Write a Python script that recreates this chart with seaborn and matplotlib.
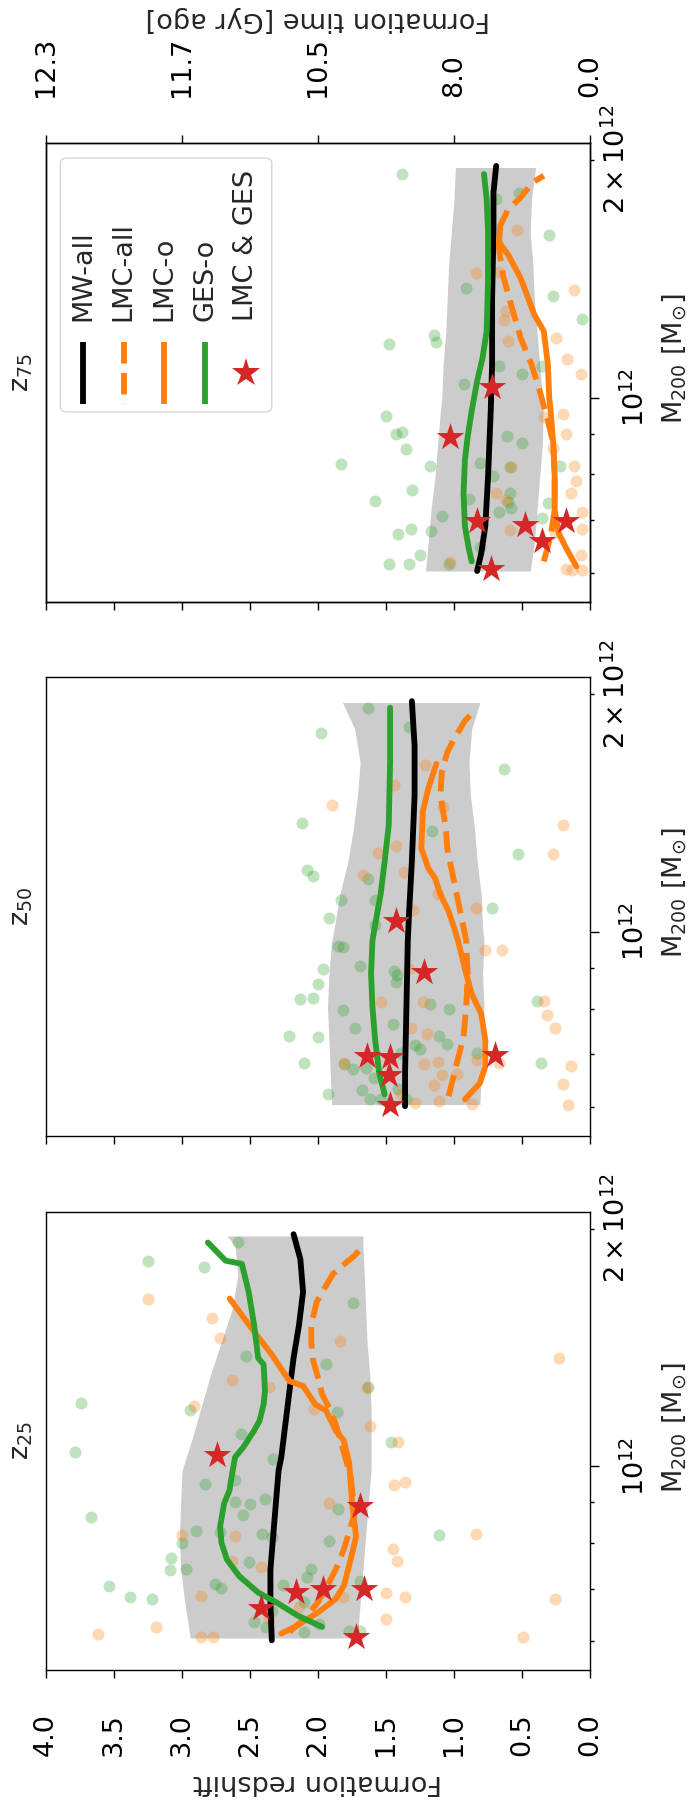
import matplotlib
matplotlib.use("Agg")
import matplotlib.pyplot as plt
import matplotlib.ticker as mticker
from matplotlib.patches import FancyBboxPatch
import numpy as np
import seaborn as sns

# ---------------- data (mass in 1e12 Msun, formation redshift) ----------------
redshift_ticks = [0.0, 0.5, 1.0, 1.5, 2.0, 2.5, 3.0, 3.5, 4.0]
redshift_labels = ["0.0", "0.5", "1.0", "1.5", "2.0", "2.5", "3.0", "3.5", "4.0"]
time_ticks = [0.0, 1.0, 2.0, 3.0, 4.0]
time_labels = ["0.0", "8.0", "10.5", "11.7", "12.3"]
mass_major = [1.0e12]
mass_major_labels = [r"$\mathdefault{10^{12}}$"]
mass_minor = [6e11, 7e11, 8e11, 9e11, 2e12]
mass_minor_labels = ["", "", "", "", r"$\mathdefault{2\times10^{12}}$"]
panel_titles = ["z$_{25}$", "z$_{50}$", "z$_{75}$"]
legend_labels = ["MW-all", "LMC-all", "LMC-o", "GES-o", "LMC & GES"]

# --- z25 ---
band25_m = [0.606, 0.673, 0.740, 0.815, 0.898, 0.988, 1.078, 1.187, 1.307, 1.439, 1.585, 1.745, 1.903, 1.958]
band25_hi = [2.94, 2.98, 3.01, 3.02, 3.01, 3.00, 2.93, 2.86, 2.79, 2.71, 2.63, 2.59, 2.61, 2.67]
band25_lo = [1.71, 1.69, 1.67, 1.65, 1.63, 1.61, 1.61, 1.61, 1.62, 1.64, 1.65, 1.66, 1.67, 1.67]
mw25_m = [0.602, 0.673, 0.740, 0.815, 0.898, 0.988, 1.027, 1.131, 1.246, 1.371, 1.510, 1.663, 1.830, 1.968]
mw25_z = [2.34, 2.35, 2.35, 2.33, 2.31, 2.29, 2.27, 2.24, 2.21, 2.18, 2.14, 2.11, 2.13, 2.18]
ges25_m = [0.626, 0.647, 0.673, 0.692, 0.726, 0.762, 0.800, 0.839, 0.898, 0.933, 0.960, 1.027, 1.057,
           1.110, 1.142, 1.198, 1.246, 1.346, 1.371, 1.510, 1.663, 1.805, 1.822, 1.921]
ges25_z = [1.97, 2.15, 2.31, 2.44, 2.58, 2.67, 2.71, 2.72, 2.69, 2.65, 2.64, 2.61, 2.55,
           2.47, 2.43, 2.40, 2.39, 2.40, 2.44, 2.47, 2.51, 2.56, 2.68, 2.81]
lmco25_m = [0.614, 0.629, 0.653, 0.679, 0.706, 0.762, 0.815, 0.898, 1.008, 1.078, 1.110, 1.176,
            1.198, 1.264, 1.282, 1.385, 1.481, 1.631]
lmco25_z = [2.27, 2.15, 2.00, 1.87, 1.81, 1.76, 1.72, 1.75, 1.77, 1.81, 1.87, 1.94,
            2.02, 2.11, 2.21, 2.34, 2.47, 2.65]
lmca25_m = [0.617, 0.641, 0.673, 0.712, 0.740, 0.785, 0.872, 0.970, 1.027, 1.131, 1.187, 1.234,
            1.295, 1.371, 1.439, 1.510, 1.615, 1.695, 1.753, 1.814, 1.849, 1.903]
lmca25_z = [2.21, 2.10, 2.00, 1.92, 1.87, 1.81, 1.73, 1.76, 1.80, 1.87, 1.92, 1.97,
            2.00, 2.04, 2.05, 2.05, 2.01, 1.94, 1.89, 1.79, 1.73, 1.67]
star25_m = [1.034, 0.891, 0.661, 0.694, 0.699, 0.700, 0.608]
star25_z = [2.74, 1.69, 2.42, 2.16, 1.96, 1.66, 1.72]
gpts25_m = [1.925, 1.819, 1.791, 1.609, 1.378, 1.347, 1.260, 1.202, 1.180, 1.171, 1.100, 1.043, 1.073,
            1.022, 0.951, 0.960, 0.900, 0.896, 0.908, 0.867, 0.863, 0.828, 0.826, 0.822, 0.814, 0.804,
            0.800, 0.765, 0.757, 0.742, 0.739, 0.742, 0.724, 0.709, 0.701, 0.706, 0.684, 0.680, 0.708,
            0.882, 0.818, 0.673, 0.635, 0.626, 0.617, 0.618, 0.618, 0.655, 0.716, 0.632]
gpts25_z = [2.59, 3.25, 2.84, 1.74, 2.53, 1.94, 1.63, 3.74, 2.94, 1.86, 2.57, 3.79, 1.46,
            2.33, 2.83, 2.61, 2.61, 2.50, 2.39, 2.55, 3.67, 2.90, 2.72, 2.41, 2.34, 1.92,
            3.00, 3.08, 2.51, 2.97, 3.09, 2.05, 2.08, 2.76, 2.71, 3.54, 3.38, 3.22, 2.26,
            1.85, 1.11, 2.10, 2.47, 2.38, 2.10, 1.77, 1.69, 2.34, 1.69, 1.99]
opts25_m = [1.631, 1.541, 1.452, 1.442, 1.372, 1.287, 1.260, 1.255, 1.193, 1.183, 1.124, 1.075,
            0.948, 0.954, 0.899, 0.822, 0.786, 0.759, 0.818, 0.817, 0.759, 0.746, 0.685, 0.692,
            0.684, 0.679, 0.640, 0.625, 0.614, 0.607, 0.608, 0.607, 0.684, 0.640, 0.663]
opts25_z = [3.25, 2.78, 2.72, 1.84, 0.23, 2.63, 2.36, 1.64, 2.91, 2.03, 1.62, 1.41,
            1.44, 1.36, 1.92, 0.84, 1.45, 1.42, 3.00, 2.61, 2.63, 2.42, 2.86, 1.50,
            1.36, 0.26, 1.50, 3.19, 3.62, 2.86, 2.77, 0.49, 1.82, 2.36, 2.14]

# --- z50 ---
band50_m = [0.605, 0.663, 0.730, 0.804, 0.885, 0.974, 1.013, 1.115, 1.228, 1.352, 1.488, 1.639, 1.805, 1.950]
band50_hi = [1.90, 1.91, 1.92, 1.93, 1.92, 1.90, 1.88, 1.84, 1.78, 1.74, 1.71, 1.69, 1.73, 1.82]
band50_lo = [0.81, 0.80, 0.79, 0.78, 0.79, 0.78, 0.79, 0.80, 0.83, 0.85, 0.88, 0.89, 0.87, 0.81]
mw50_m = [0.602, 0.663, 0.804, 0.974, 1.062, 1.228, 1.488, 1.720, 1.958]
mw50_z = [1.36, 1.36, 1.35, 1.34, 1.33, 1.31, 1.29, 1.29, 1.31]
ges50_m = [0.623, 0.663, 0.730, 0.804, 0.885, 0.974, 1.022, 1.115, 1.228, 1.365, 1.639, 1.921]
ges50_z = [1.51, 1.55, 1.58, 1.60, 1.61, 1.60, 1.58, 1.54, 1.51, 1.48, 1.47, 1.47]
lmco50_m = [0.614, 0.644, 0.676, 0.730, 0.788, 0.835, 0.885, 0.974, 1.013, 1.062, 1.115, 1.170,
            1.204, 1.276, 1.419, 1.517, 1.631]
lmco50_z = [0.92, 0.81, 0.77, 0.77, 0.80, 0.87, 0.91, 0.97, 1.00, 1.04, 1.10, 1.14,
            1.19, 1.24, 1.23, 1.19, 1.13]
lmca50_m = [0.620, 0.682, 0.737, 0.804, 0.885, 0.974, 1.013, 1.073, 1.137, 1.204, 1.276, 1.352,
            1.419, 1.488, 1.592, 1.687, 1.753, 1.849, 1.912]
lmca50_z = [1.04, 0.98, 0.93, 0.91, 0.90, 0.91, 0.93, 0.96, 0.99, 1.02, 1.05, 1.06,
            1.08, 1.10, 1.09, 1.05, 1.00, 0.92, 0.84]
star50_m = [1.032, 0.889, 0.696, 0.695, 0.660, 0.605, 0.699]
star50_z = [1.43, 1.22, 1.64, 1.47, 1.48, 1.47, 0.70]
gpts50_m = [1.921, 1.786, 1.814, 1.605, 1.374, 1.343, 1.256, 1.198, 1.178, 1.168, 1.097, 1.097, 1.040,
            1.071, 1.020, 0.960, 0.958, 0.898, 0.906, 0.893, 0.881, 0.864, 0.860, 0.823, 0.824, 0.797,
            0.811, 0.800, 0.755, 0.764, 0.739, 0.737, 0.738, 0.721, 0.719, 0.712, 0.702, 0.682, 0.681,
            0.671, 0.673, 0.653, 0.704, 0.682, 0.817, 0.624, 0.632, 0.615, 0.615, 0.633, 0.614]
gpts50_z = [1.63, 1.98, 1.33, 0.63, 2.12, 1.16, 0.53, 2.08, 2.04, 1.63, 1.83, 1.58, 1.92,
            0.72, 1.58, 1.85, 1.82, 1.96, 1.69, 1.44, 1.42, 1.43, 2.00, 2.13, 2.04, 1.82,
            1.18, 1.04, 1.73, 1.45, 2.21, 2.00, 1.11, 1.05, 1.29, 1.25, 1.39, 2.10, 1.81,
            1.74, 1.65, 1.59, 0.83, 0.36, 0.39, 1.93, 1.68, 1.62, 1.54, 1.41, 1.35]
opts50_m = [1.627, 1.536, 1.447, 1.439, 1.367, 1.254, 1.284, 1.257, 1.181, 1.190, 1.118, 1.066, 1.072,
            0.948, 0.950, 0.898, 0.816, 0.816, 0.818, 0.785, 0.756, 0.755, 0.744, 0.682, 0.680, 0.684,
            0.660, 0.662, 0.641, 0.688, 0.682, 0.676, 0.643, 0.605, 0.611, 0.607, 0.606, 0.623]
opts50_z = [1.21, 1.44, 1.90, 1.08, 0.20, 0.27, 1.43, 1.56, 1.67, 1.37, 1.12, 1.30, 0.84,
            0.77, 0.65, 1.33, 1.54, 1.23, 0.34, 0.32, 0.26, 1.32, 1.20, 1.81, 1.22, 1.12,
            1.09, 0.98, 1.15, 0.83, 0.67, 0.14, 0.20, 0.16, 1.11, 1.29, 0.87, 1.39]

# --- z75 ---
band75_m = [0.604, 0.655, 0.721, 0.794, 0.875, 0.963, 1.001, 1.102, 1.214, 1.336, 1.471, 1.620, 1.784, 1.955]
band75_hi = [1.21, 1.19, 1.17, 1.14, 1.12, 1.10, 1.09, 1.08, 1.06, 1.05, 1.04, 1.02, 1.00, 0.99]
band75_lo = [0.44, 0.41, 0.39, 0.37, 0.35, 0.345, 0.35, 0.37, 0.39, 0.41, 0.42, 0.44, 0.43, 0.40]
mw75_m = [0.604, 0.636, 0.688, 0.794, 0.963, 1.102, 1.336, 1.620, 1.818, 1.964]
mw75_z = [0.83, 0.80, 0.77, 0.75, 0.73, 0.72, 0.72, 0.71, 0.71, 0.69]
ges75_m = [0.621, 0.643, 0.688, 0.757, 0.834, 0.892, 0.963, 1.050, 1.124, 1.214, 1.402, 1.620, 1.784, 1.918]
ges75_z = [0.87, 0.89, 0.92, 0.93, 0.92, 0.90, 0.87, 0.83, 0.79, 0.76, 0.75, 0.75, 0.76, 0.78]
lmco75_m = [0.612, 0.643, 0.674, 0.721, 0.794, 0.875, 0.963, 1.001, 1.102, 1.214, 1.274, 1.416,
            1.515, 1.574, 1.636]
lmco75_z = [0.10, 0.17, 0.23, 0.26, 0.26, 0.27, 0.29, 0.30, 0.31, 0.34, 0.41, 0.51,
            0.60, 0.67, 0.66]
lmca75_m = [0.621, 0.668, 0.721, 0.794, 0.875, 0.936, 1.020, 1.102, 1.190, 1.311, 1.429, 1.544,
            1.652, 1.733, 1.784, 1.873, 1.909]
lmca75_z = [0.34, 0.29, 0.26, 0.26, 0.27, 0.31, 0.37, 0.43, 0.51, 0.58, 0.64, 0.67,
            0.66, 0.60, 0.52, 0.42, 0.34]
star75_m = [1.032, 0.892, 0.698, 0.691, 0.660, 0.699, 0.608]
star75_z = [0.72, 1.03, 0.83, 0.48, 0.35, 0.18, 0.73]
gpts75_m = [1.918, 1.815, 1.784, 1.605, 1.375, 1.345, 1.257, 1.170, 1.200, 1.177, 1.097, 1.071, 1.097,
            1.040, 0.949, 0.899, 0.906, 0.861, 0.824, 0.821, 0.764, 0.741, 0.826, 0.797, 0.894, 0.877,
            0.817, 0.757, 0.739, 0.725, 0.718, 0.708, 0.745, 0.683, 0.672, 0.678, 0.632, 0.616, 0.616,
            0.617, 0.820, 0.737, 0.704, 0.648]
gpts75_z = [1.38, 0.52, 0.69, 0.30, 0.91, 0.27, 0.06, 1.48, 1.15, 1.13, 0.67, 0.50, 0.35,
            0.93, 1.50, 1.43, 1.38, 1.35, 1.83, 1.18, 1.31, 1.58, 0.81, 0.71, 0.61, 0.50,
            0.59, 0.59, 0.60, 0.58, 0.67, 1.09, 0.89, 1.32, 1.41, 1.17, 1.25, 1.48, 1.33,
            1.04, 0.22, 0.31, 0.35, 0.81]
opts75_m = [1.628, 1.440, 1.441, 1.369, 1.286, 1.255, 1.190, 1.181, 1.118, 1.071, 0.954, 0.947,
            0.899, 0.865, 0.821, 0.784, 0.757, 0.817, 0.757, 0.742, 0.680, 0.718, 0.683, 0.633,
            0.607, 0.605, 0.606, 0.620, 0.676]
opts75_z = [0.54, 0.84, 0.67, 0.12, 0.62, 0.63, 0.25, 0.60, 0.17, 0.07, 0.20, 0.34,
            0.18, 0.27, 0.12, 0.10, 0.14, 0.58, 0.69, 0.62, 0.59, 0.06, 0.06, 0.07,
            0.18, 0.13, 0.06, 1.03, 0.26]

# ---------------- style ----------------
BLACK, ORANGE, GREEN, RED, BAND = "black", "#ff7f0e", "#2ca02c", "#d62728", "#cccccc"
FS = 19.5
LW = 4.2

sns.set_style("ticks", {"axes.edgecolor": "black", "xtick.color": "black", "ytick.color": "black"})
plt.rcParams["font.family"] = ["DejaVu Sans"]
plt.rcParams["axes.linewidth"] = 1.0

panels = [
    (band25_m, band25_lo, band25_hi, mw25_m, mw25_z, lmca25_m, lmca25_z, lmco25_m, lmco25_z,
     ges25_m, ges25_z, star25_m, star25_z, gpts25_m, gpts25_z, opts25_m, opts25_z),
    (band50_m, band50_lo, band50_hi, mw50_m, mw50_z, lmca50_m, lmca50_z, lmco50_m, lmco50_z,
     ges50_m, ges50_z, star50_m, star50_z, gpts50_m, gpts50_z, opts50_m, opts50_z),
    (band75_m, band75_lo, band75_hi, mw75_m, mw75_z, lmca75_m, lmca75_z, lmco75_m, lmco75_z,
     ges75_m, ges75_z, star75_m, star75_z, gpts75_m, gpts75_z, opts75_m, opts75_z),
]

# axes positions (figure is drawn "rotated": redshift runs right-to-left, mass upward)
positions = [[0.0669, 0.0758, 0.7907, 0.2535],
             [0.0669, 0.3713, 0.7907, 0.2540],
             [0.0669, 0.6669, 0.7907, 0.2540]]

fig = plt.figure(figsize=(6.88, 18.07), dpi=100)


def m12(a):
    return np.asarray(a) * 1e12


for i, (pos, data) in enumerate(zip(positions, panels)):
    (bm, blo, bhi, mwm, mwz, lam, laz, lom, loz, gm, gz, sm, sz, gpm, gpz, opm, opz) = data
    ax = fig.add_axes(pos)

    ax.fill_betweenx(m12(bm), blo, bhi, color=BAND, lw=0, zorder=1)
    sns.scatterplot(x=gpz, y=m12(gpm), color=GREEN, alpha=0.3, s=75, linewidth=0,
                    legend=False, zorder=2, ax=ax)
    sns.scatterplot(x=opz, y=m12(opm), color=ORANGE, alpha=0.3, s=75, linewidth=0,
                    legend=False, zorder=2, ax=ax)
    sns.lineplot(x=mwz, y=m12(mwm), sort=False, estimator=None, color=BLACK, lw=LW, zorder=3, ax=ax)
    sns.lineplot(x=laz, y=m12(lam), sort=False, estimator=None, color=ORANGE, lw=LW,
                 linestyle="--", zorder=3, ax=ax)
    sns.lineplot(x=loz, y=m12(lom), sort=False, estimator=None, color=ORANGE, lw=LW, zorder=3, ax=ax)
    sns.lineplot(x=gz, y=m12(gm), sort=False, estimator=None, color=GREEN, lw=LW, zorder=3, ax=ax)
    sns.scatterplot(x=sz, y=m12(sm), marker="*", color=RED, s=430, linewidth=0,
                    legend=False, zorder=4, ax=ax)

    if i == 2:
        axt = ax.twiny()
        axt.set_xlim(4, 0)
        axt.set_xticks(time_ticks)
        axt.set_xticklabels(time_labels)
        axt.tick_params(axis="x", which="major", length=6, width=1, pad=27,
                        labelsize=FS, labelrotation=90)
        axt.tick_params(axis="x", which="minor", length=0)

    ax.set_xlim(4, 0)
    ax.set_yscale("log")
    ax.set_ylim(0.552e12, 2.10e12)
    ax.set_xlabel("")
    ax.set_ylabel("")

    ax.set_xticks(redshift_ticks)
    ax.set_xticklabels(redshift_labels)
    ax.xaxis.set_minor_locator(mticker.NullLocator())
    ax.tick_params(axis="x", which="major", length=6, width=1, pad=25, labelsize=FS,
                   labelrotation=90, bottom=True, top=False, labelbottom=(i == 0), labeltop=False)

    ax.yaxis.set_major_locator(mticker.FixedLocator(mass_major))
    ax.yaxis.set_major_formatter(mticker.FixedFormatter(mass_major_labels))
    ax.yaxis.set_minor_locator(mticker.FixedLocator(mass_minor))
    ax.yaxis.set_minor_formatter(mticker.FixedFormatter(mass_minor_labels))
    ax.tick_params(axis="y", which="both", left=False, labelleft=False, right=True,
                   labelright=True, labelsize=FS, labelrotation=90)
    ax.tick_params(axis="y", which="major", length=6.3, width=1, pad=16.5)
    ax.tick_params(axis="y", which="minor", length=2.7, width=1, pad=6.5)
    for t in ax.yaxis.get_major_ticks() + ax.yaxis.get_minor_ticks():
        t.label2.set_verticalalignment("center")

    ax.text(1.129, 0.53, r"M$_{200}$ [M$_{\odot}$]", rotation=90, ha="left", va="center",
            fontsize=FS, transform=ax.transAxes)
    ax.text(-0.02, 0.5, panel_titles[i], rotation=90, ha="right", va="center",
            fontsize=FS, transform=ax.transAxes)

    if i == 2:
        box = FancyBboxPatch((0.026, 0.414), 0.389, 0.553,
                             boxstyle="round,pad=0,rounding_size=0.012",
                             transform=ax.transAxes, fc="white", ec="0.8", lw=1.0,
                             alpha=0.8, zorder=8)
        ax.add_patch(box)
        styles = [(BLACK, "-"), (ORANGE, "--"), (ORANGE, "-"), (GREEN, "-"), None]
        for k, lab in enumerate(legend_labels):
            lx = 0.068 + 0.0748 * k
            if styles[k] is not None:
                ax.plot([lx, lx], [0.567, 0.431], color=styles[k][0], ls=styles[k][1], lw=LW,
                        transform=ax.transAxes, zorder=9, clip_on=False, solid_capstyle="butt")
            else:
                ax.plot([lx], [0.499], marker="*", ms=21, color=RED, mew=0,
                        transform=ax.transAxes, zorder=9, clip_on=False)
            ax.text(lx, 0.611, lab, rotation=90, ha="center", va="bottom", fontsize=FS,
                    transform=ax.transAxes, zorder=9)

fig.text(0.4622, 1 - 19 / 1807, "Formation time [Gyr ago]", rotation=180,
         ha="center", va="center", fontsize=FS)
fig.text(0.4622, 1 - 1782 / 1807, "Formation redshift", rotation=180,
         ha="center", va="center", fontsize=FS)

fig.savefig("out.png", dpi=100)
